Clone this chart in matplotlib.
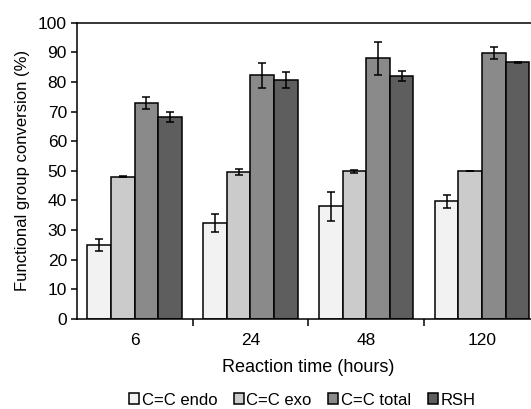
import numpy as np
import matplotlib.pyplot as plt

plt.rcParams['font.family'] = ['Liberation Sans', 'DejaVu Sans']

times = ["6", "24", "48", "120"]
series = ["C=C endo", "C=C exo", "C=C total", "RSH"]
endo = [25.0, 32.5, 38.0, 39.7]
endo_err = [2.0, 3.1, 4.9, 2.1]
exo = [48.0, 49.6, 49.8, 50.0]
exo_err = [0.2, 0.9, 0.6, 0.0]
total = [72.9, 82.2, 88.0, 89.9]
total_err = [2.1, 4.1, 5.5, 2.0]
rsh = [68.1, 80.6, 82.0, 86.6]
rsh_err = [1.7, 2.8, 1.7, 0.3]

colors = ["#f2f2f2", "#cbcbcb", "#8a8a8a", "#5e5e5e"]

fig = plt.figure(figsize=(5.31, 4.09), dpi=100)
# right edge runs a little past the figure, so the last bar is clipped
ax = fig.add_axes([0.1444, 0.22, 0.8725, 0.7245])

x = np.arange(len(times))
width = 0.204
values = [endo, exo, total, rsh]
errors = [endo_err, exo_err, total_err, rsh_err]
for i, (vals, errs) in enumerate(zip(values, errors)):
    ax.bar(x + (i - 1.5) * width, vals, width, color=colors[i], edgecolor="black",
           linewidth=1.1, label=series[i], zorder=2)
    ax.errorbar(x + (i - 1.5) * width, vals, yerr=errs, fmt="none", ecolor="black",
                elinewidth=1.1, capsize=2.8, capthick=1.1, zorder=3)

ax.set_xlim(-0.5, len(times) - 0.5)
ax.set_ylim(0, 100)
ax.set_yticks(np.arange(0, 101, 10))
ax.tick_params(axis="y", labelsize=12.5, length=4, width=1.1, direction="out", pad=3)

ax.set_xticks(x)
ax.set_xticklabels(times)
ax.set_xticks(np.arange(0.5, len(times) - 0.5, 1), minor=True)
ax.tick_params(axis="x", which="major", length=0, labelsize=12.5, pad=10)
ax.tick_params(axis="x", which="minor", length=5, width=1.1, direction="out")

for side in ["left", "bottom", "top"]:
    ax.spines[side].set_linewidth(1.1)
ax.spines["right"].set_visible(False)

ax.set_ylabel("Functional group conversion (%)", fontsize=12, labelpad=6)
ax.set_xlabel("Reaction time (hours)", fontsize=13, labelpad=8)

ax.legend(loc="center", bbox_to_anchor=(0.569, 0.022), bbox_transform=fig.transFigure,
          ncol=4, frameon=False, fontsize=12, handlelength=0.6, handleheight=0.6,
          handletextpad=0.15, columnspacing=1.0)

fig.savefig("out.png", dpi=100)
